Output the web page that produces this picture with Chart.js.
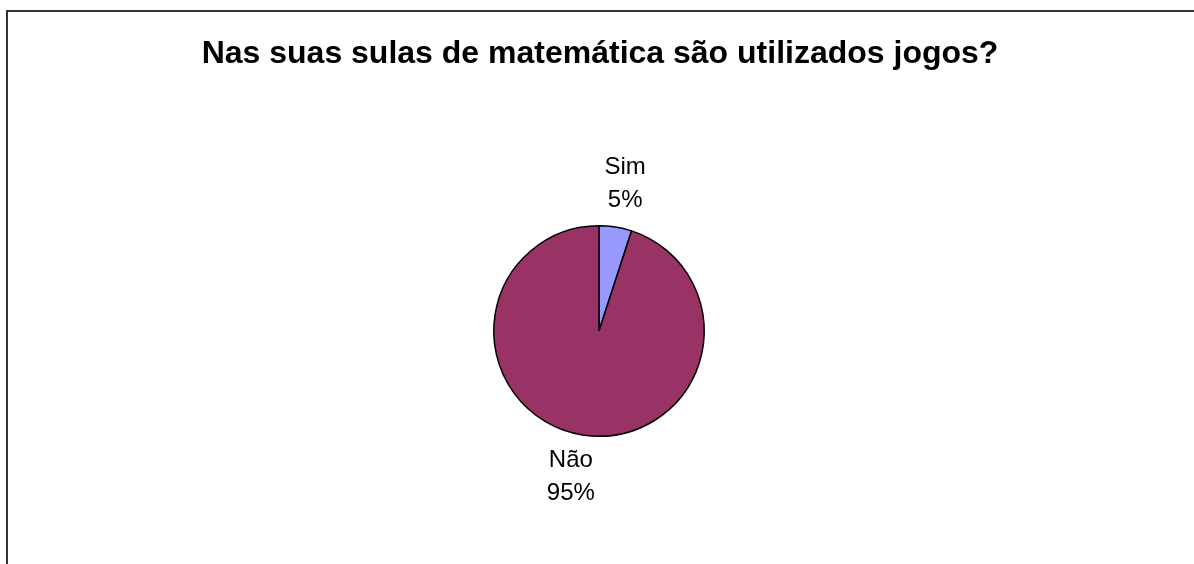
<!DOCTYPE html>
<html>
<head>
<meta charset="utf-8">
<script src="https://cdn.jsdelivr.net/npm/chart.js@4.4.0/dist/chart.umd.min.js"></script>
<style>
    body { margin: 0; background: #fff; }
    #wrap { width: 1194px; height: 564px; position: relative; }
</style>
</head>
<body>
<div id="wrap"><canvas id="pieChart" width="1194" height="564"></canvas></div>
<script>
// Chart data
var titleText = 'Nas suas sulas de matemática são utilizados jogos?';
var categories = ['Sim', 'Não'];
var percentages = [5, 95];
var sliceColors = ['#9999FF', '#993366'];

// Draws the frame, title and the two-line slice labels
var decorPlugin = {
    id: 'decor',
    beforeDraw: function(chart) {
        var ctx = chart.ctx;
        ctx.save();
        ctx.fillStyle = '#fff';
        ctx.fillRect(0, 0, chart.width, chart.height);
        ctx.strokeStyle = '#333';
        ctx.lineWidth = 2;
        ctx.beginPath();
        ctx.moveTo(7, chart.height + 2);
        ctx.lineTo(7, 11);
        ctx.lineTo(chart.width + 2, 11);
        ctx.stroke();
        ctx.restore();
    },
    afterDraw: function(chart) {
        var ctx = chart.ctx;
        ctx.save();
        ctx.fillStyle = '#000';
        ctx.textAlign = 'center';
        ctx.textBaseline = 'alphabetic';
        ctx.font = 'bold 32px "Liberation Sans", Arial, sans-serif';
        ctx.fillText(titleText, 600, 63);

        ctx.textBaseline = 'middle';
        ctx.font = '24px "Liberation Sans", Arial, sans-serif';
        var meta = chart.getDatasetMeta(0);
        meta.data.forEach(function(arc, i) {
            var mid = (arc.startAngle + arc.endAngle) / 2;
            var r = arc.outerRadius + 43;
            var x = arc.x + Math.cos(mid) * r;
            var y = arc.y + Math.sin(mid) * r;
            ctx.fillText(categories[i], x + (i === 0 ? 3 : -5), y - 17);
            ctx.fillText(percentages[i] + '%', x + (i === 0 ? 3 : -5), y + 16);
        });
        ctx.restore();
    }
};

var ctx = document.getElementById('pieChart').getContext('2d');
var chart = new Chart(ctx, {
    type: 'pie',
    data: {
        labels: categories,
        datasets: [{
            data: percentages,
            backgroundColor: sliceColors,
            borderColor: '#000',
            borderWidth: 1.5
        }]
    },
    options: {
        responsive: false,
        animation: false,
        layout: {
            padding: { top: 225, bottom: 127, left: 300, right: 296 }
        },
        plugins: {
            legend: { display: false },
            tooltip: { enabled: false },
            title: { display: false }
        }
    },
    plugins: [decorPlugin]
});
</script>
</body>
</html>
